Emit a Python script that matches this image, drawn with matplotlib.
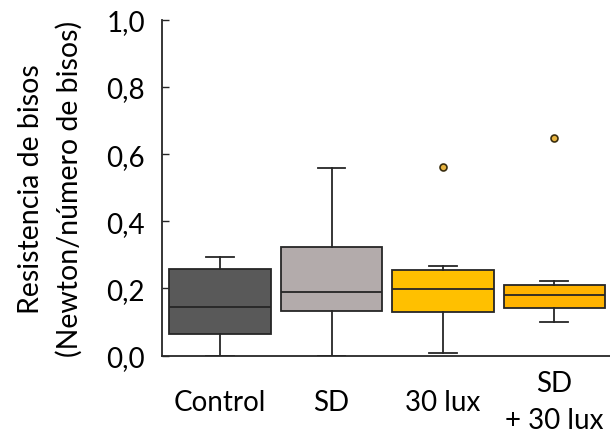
import matplotlib.pyplot as plt

plt.rcParams['font.family'] = ['Lato', 'DejaVu Sans']

grupos = ['Control', 'SD', '30 lux', 'SD\n+ 30 lux']
q1 = [0.065, 0.132, 0.130, 0.143]
medianas = [0.146, 0.190, 0.199, 0.180]
q3 = [0.259, 0.323, 0.255, 0.211]
bigote_inf = [0.0, 0.0, 0.007, 0.100]
bigote_sup = [0.294, 0.559, 0.268, 0.221]
atipicos = [[], [], [0.560], [0.649]]
colores = ['#595959', '#b3abab', '#ffc000', '#ffb300']

stats = []
for i in range(len(grupos)):
    stats.append({'q1': q1[i], 'med': medianas[i], 'q3': q3[i],
                  'whislo': bigote_inf[i], 'whishi': bigote_sup[i],
                  'fliers': atipicos[i]})

fig = plt.figure(figsize=(6.1, 4.39), dpi=100)
ax = fig.add_axes([0.265, 0.1875, 0.735, 0.7655])

bp = ax.bxp(stats, positions=[1, 2, 3, 4], widths=0.91, capwidths=0.25,
            patch_artist=True,
            boxprops=dict(edgecolor='#262626', linewidth=1.3),
            medianprops=dict(color='#262626', linewidth=1.3),
            whiskerprops=dict(color='#262626', linewidth=1.3),
            capprops=dict(color='#262626', linewidth=1.3),
            flierprops=dict(marker='o', markersize=5, markerfacecolor='#e8b440',
                            markeredgecolor='#3a2e10', markeredgewidth=1.2))
for caja, c in zip(bp['boxes'], colores):
    caja.set_facecolor(c)

ax.set_xlim(0.475, 4.5)
ax.set_ylim(0, 1.0)
ax.set_yticks([0, 0.2, 0.4, 0.6, 0.8, 1.0])
ax.set_yticklabels(['0,0', '0,2', '0,4', '0,6', '0,8', '1,0'], fontsize=20)
ax.set_xticks([1, 2, 3, 4])
ax.set_xticklabels(grupos, fontsize=20, linespacing=1.55, va='center')
ax.tick_params(axis='x', length=0, pad=33)
ax.tick_params(axis='y', direction='in', length=5, width=1, pad=12, color='#262626')

ax.spines['top'].set_visible(False)
ax.spines['right'].set_visible(False)
for s in ['left', 'bottom']:
    ax.spines[s].set_linewidth(1.3)
    ax.spines[s].set_color('#262626')

ax.set_ylabel('Resistencia de bisos\n(Newton/número de bisos)', fontsize=20.5,
              linespacing=1.55)
ax.yaxis.set_label_coords(-0.176, 0.5)

fig.savefig('out.png', dpi=100)
